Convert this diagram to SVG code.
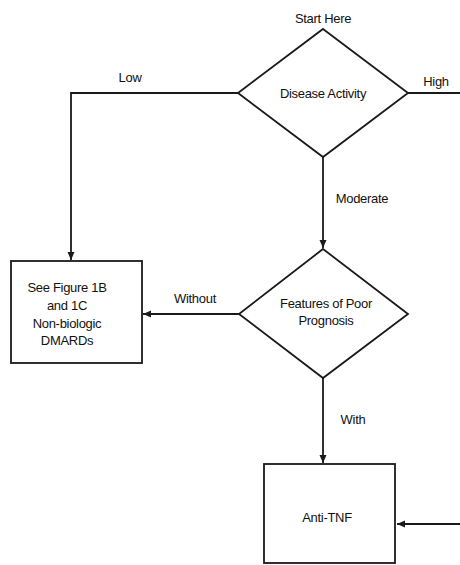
<svg xmlns="http://www.w3.org/2000/svg" width="460" height="565" viewBox="0 0 460 565">
<style>
.shape{fill:#fff;stroke:#1a1a1a;stroke-width:1.8}
.conn{fill:none;stroke:#1a1a1a;stroke-width:1.8}
text{font-family:"Liberation Sans",Arial,sans-serif;font-size:13px;letter-spacing:-0.3px;fill:#111;text-anchor:middle}
</style>
<defs>
<marker id="arr" viewBox="0 0 8 8" refX="8" refY="4" markerWidth="8" markerHeight="8" markerUnits="userSpaceOnUse" orient="auto">
<path d="M0,0.5 L8,4 L0,7.5 Z" fill="#1a1a1a"/>
</marker>
</defs>
<rect width="460" height="565" fill="#fff"/>
<g id="connectors">
<polyline class="conn" points="238,93 71,93 71,260" marker-end="url(#arr)"/>
<line class="conn" x1="408" y1="93" x2="460" y2="93"/>
<line class="conn" x1="323" y1="157" x2="323" y2="248" marker-end="url(#arr)"/>
<line class="conn" x1="239" y1="314" x2="143" y2="314" marker-end="url(#arr)"/>
<line class="conn" x1="323" y1="378" x2="323" y2="463" marker-end="url(#arr)"/>
<line class="conn" x1="460" y1="524" x2="397" y2="524" marker-end="url(#arr)"/>
<text x="130" y="82">Low</text>
<text x="436" y="86">High</text>
<text x="362" y="203">Moderate</text>
<text x="195" y="303">Without</text>
<text x="353" y="424">With</text>
</g>
<g id="start-label">
<text x="323" y="23">Start Here</text>
</g>
<g id="disease-activity">
<polygon class="shape" points="323,29 408,93 323,157 238,93"/>
<text x="323" y="98">Disease Activity</text>
</g>
<g id="poor-prognosis">
<polygon class="shape" points="323,249 408,314 323,378 239,314"/>
<text x="326" y="308">Features of Poor</text>
<text x="326" y="325">Prognosis</text>
</g>
<g id="non-biologic">
<rect class="shape" x="11" y="261" width="131" height="102"/>
<text x="67" y="292">See Figure 1B</text>
<text x="67" y="310">and 1C</text>
<text x="67" y="328">Non-biologic</text>
<text x="67" y="345">DMARDs</text>
</g>
<g id="anti-tnf">
<rect class="shape" x="264" y="464" width="131" height="99"/>
<text x="327" y="522">Anti-TNF</text>
</g>
</svg>
